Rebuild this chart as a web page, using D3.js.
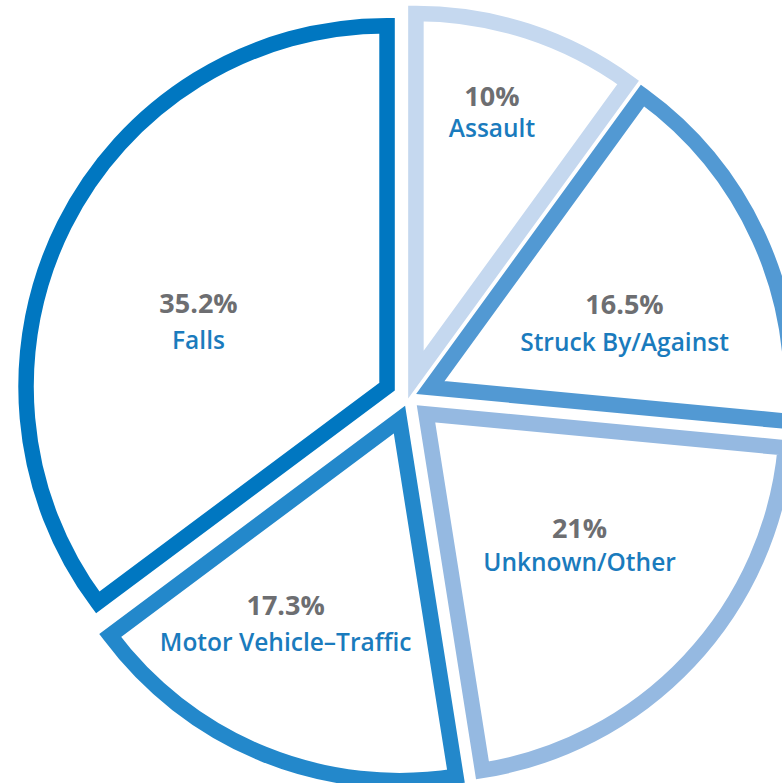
<!DOCTYPE html>
<html><head><meta charset="utf-8">
<script src="https://cdn.jsdelivr.net/npm/d3@7"></script>
<style>html,body{margin:0;padding:0;background:#fff;overflow:hidden}</style>
</head><body>
<svg id="chart" width="782" height="783"></svg>
<script>
// ---- data ----
const categories = ["Assault", "Struck By/Against", "Unknown/Other", "Motor Vehicle\u2013Traffic", "Falls"];
const values = [10, 16.5, 21, 17.3, 35.2];
const valueLabels = ["10%", "16.5%", "21%", "17.3%", "35.2%"];

// ---- style / layout ----
const colors = ["#c5d8ef", "#5299d3", "#95b9e1", "#2388cb", "#0077c1"];
const labelAngle = [16.0, 69.0, 129.5, 209.4, 292.0];     // degrees clockwise from 12 o'clock
const labelRadius = [302.7, 231.4, 221.6, 250.3, 226.5];  // from pie centre
const lineGap = [31, 37, 33, 36, 36];

const W = 782, H = 783, cx = 408.5, cy = 397.4, R = 361, explode = 24, sw = 15.5;
const svg = d3.select("#chart");
const arcs = d3.pie().sort(null).value(d => d)(values);
const arc = d3.arc().innerRadius(0).outerRadius(R);
const g = svg.append("g").attr("transform", `translate(${cx},${cy})`);

g.selectAll("path.slice").data(arcs).join("path")
  .attr("class", "slice")
  .attr("transform", d => {
    const a = (d.startAngle + d.endAngle) / 2;
    return `translate(${explode * Math.sin(a)},${-explode * Math.cos(a)})`;
  })
  .attr("d", arc)
  .attr("fill", "#fff")
  .attr("stroke", (d, i) => colors[i])
  .attr("stroke-width", sw)
  .attr("stroke-linejoin", "miter")
  .attr("stroke-miterlimit", 10);

const lbl = g.selectAll("g.lbl").data(arcs).join("g")
  .attr("class", "lbl")
  .attr("transform", (d, i) => {
    const a = labelAngle[i] * Math.PI / 180;
    return `translate(${labelRadius[i] * Math.sin(a)},${-labelRadius[i] * Math.cos(a)})`;
  });
lbl.append("text")
  .attr("text-anchor", "middle")
  .attr("font-family", "'Open Sans', sans-serif")
  .attr("font-weight", 700)
  .attr("font-size", 27)
  .attr("fill", "#6d6e71")
  .text((d, i) => valueLabels[i]);
lbl.append("text")
  .attr("text-anchor", "middle")
  .attr("y", (d, i) => lineGap[i])
  .attr("font-family", "'Open Sans', sans-serif")
  .attr("font-weight", 600)
  .attr("font-size", 24.5)
  .attr("fill", "#1a7bbd")
  .text((d, i) => categories[i]);
</script>
</body></html>
